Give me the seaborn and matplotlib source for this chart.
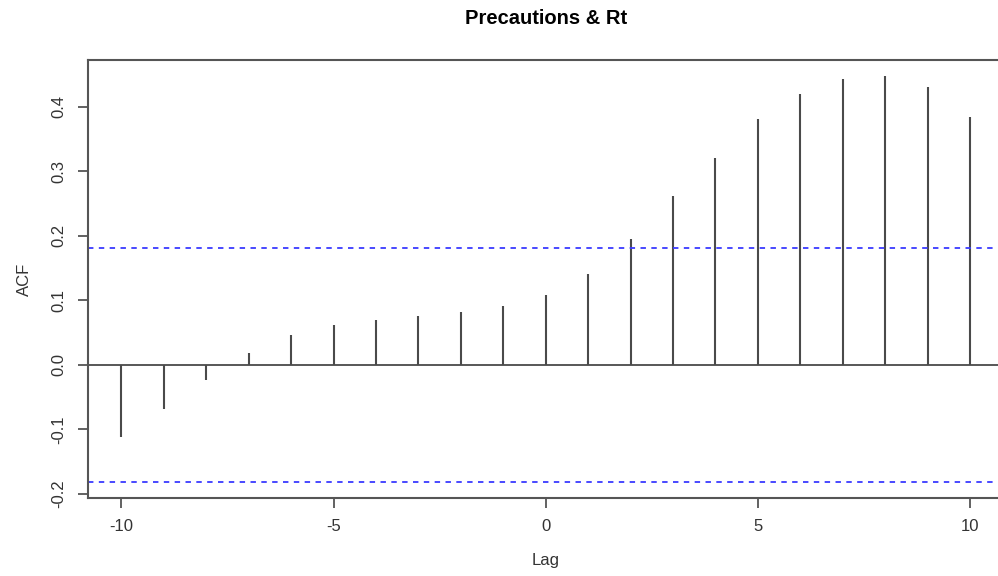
import matplotlib
matplotlib.use("Agg")
import matplotlib.pyplot as plt
import seaborn as sns
import numpy as np
import pandas as pd

# Cross-correlation between precautions and Rt, lags -10..10
lags = list(range(-10, 11))
acf = [-0.112, -0.069, -0.024, 0.018, 0.046, 0.062, 0.070, 0.076, 0.082, 0.091,
       0.108, 0.141, 0.195, 0.262, 0.321, 0.380, 0.419, 0.443, 0.447, 0.430, 0.384]
ci = 0.181
yticks = [-0.2, -0.1, 0.0, 0.1, 0.2, 0.3, 0.4]
xticks = [-10, -5, 0, 5, 10]

df = pd.DataFrame({"lag": lags, "acf": acf})

sns.set_theme(style="white")
plt.rcParams["font.family"] = ["Liberation Sans", "DejaVu Sans"]

fig = plt.figure(figsize=(9.98, 5.76), dpi=100)
ax = fig.add_axes([87.5 / 998, 1 - 498 / 576, (1004 - 87.5) / 998, (498 - 60) / 576])

stem_color = "#4a4a4a"
ax.vlines(df["lag"], 0, df["acf"], color=stem_color, lw=1.5)
sns.lineplot(x=[-10.8, 10.8], y=[0, 0], ax=ax, color=stem_color, lw=1.3)
for v in (ci, -ci):
    ax.axhline(v, color="#3a3aff", lw=1.3, ls=(0, (3, 3)))

ax.set_xlim(-10.8, 10.8)
lo, hi = -ci, max(acf)
pad = (hi - lo) * 0.04
ax.set_ylim(lo - pad, hi + pad)

ax.set_xticks(xticks)
ax.set_xticklabels([str(t) for t in xticks])
ax.set_yticks(yticks)
ax.set_yticklabels([f"{t:.1f}" for t in yticks], rotation=90, va="center")

for s in ax.spines.values():
    s.set_color("#555555")
    s.set_linewidth(1.5)
ax.tick_params(axis="both", direction="out", length=7, width=1.3, color="#555555",
               labelsize=12, labelcolor="#333333", pad=8, bottom=True, left=True)

ax.set_xlabel("Lag", fontsize=12, color="#333333", labelpad=14)
ax.set_ylabel("ACF", fontsize=12, color="#333333", labelpad=14)
fig.text(546 / 998, 1 - 18 / 576, "Precautions & Rt", ha="center", va="center",
         fontsize=14.5, fontweight="bold", color="black")

fig.savefig("out.png", dpi=100)
